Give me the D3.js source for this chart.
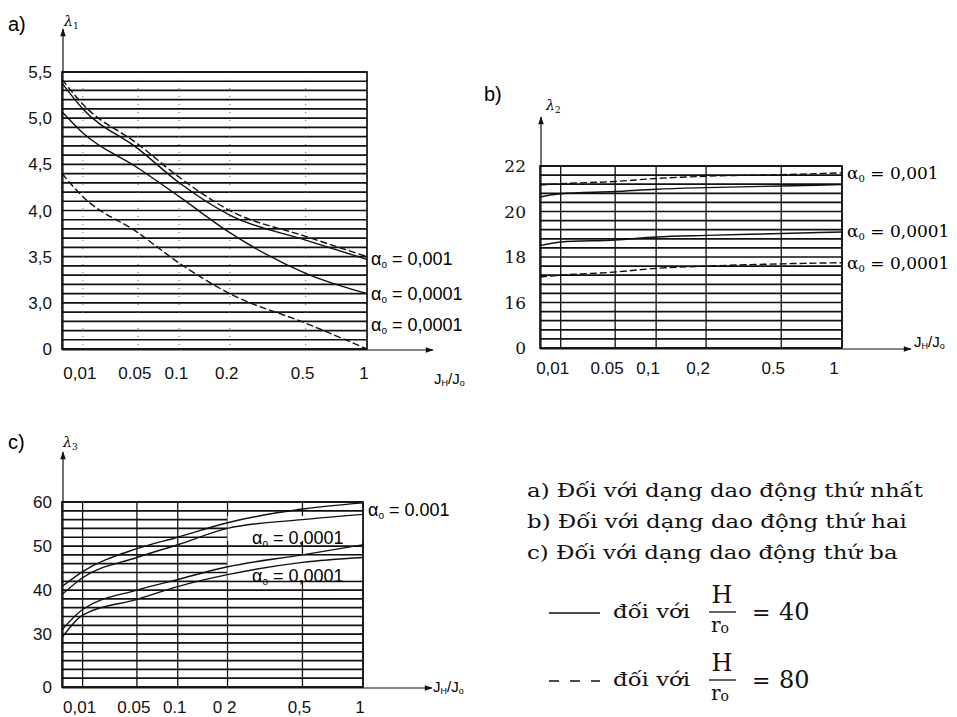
<!DOCTYPE html>
<html>
<head>
<meta charset="utf-8">
<script src="https://cdn.jsdelivr.net/npm/d3@7"></script>
<style>
  body { margin: 0; background: #fff; }
  svg { display: block; }
  .tick-label { font-family: "Liberation Sans", Arial, sans-serif; font-size: 17px; fill: #111; }
  .serif { font-family: "DejaVu Serif", "Liberation Serif", serif; }
</style>
</head>
<body>
<svg id="chart" width="957" height="717"></svg>
<script>
var xValues = [0, 0.01, 0.05, 0.1, 0.2, 0.5, 1];
var xTicks = [0.01, 0.05, 0.1, 0.2, 0.5, 1];
var xLabelsA = ["0,01", "0.05", "0.1", "0.2", "0.5", "1"];
var xLabelsB = ["0,01", "0.05", "0,1", "0,2", "0.5", "1"];
var xLabelsC = ["0,01", "0.05", "0.1", "0 2", "0,5", "1"];

// a) lambda 1
var yTicksA = [5.5, 5.0, 4.5, 4.0, 3.5, 3.0, 2.5];
var yLabelsA = ["5,5", "5,0", "4,5", "4,0", "3,5", "3,0", "0"];
var lam1_001_40 = [5.38, 5.10, 4.67, 4.30, 3.95, 3.68, 3.47];
var lam1_001_80 = [5.42, 5.15, 4.72, 4.36, 4.00, 3.72, 3.50];
var lam1_0001_40 = [5.07, 4.84, 4.46, 4.15, 3.76, 3.32, 3.10];
var lam1_0001_80 = [4.40, 4.15, 3.76, 3.43, 3.10, 2.78, 2.50];

// b) lambda 2
var yTicksB = [22, 20, 18, 16, 14];
var yLabelsB = ["22", "20", "18", "16", "0"];
var lam2_001_80 = [21.16, 21.22, 21.32, 21.45, 21.55, 21.62, 21.70];
var lam2_001_40 = [20.64, 20.78, 20.88, 20.98, 21.05, 21.12, 21.18];
var lam2_0001_40 = [18.50, 18.66, 18.75, 18.88, 18.95, 19.03, 19.10];
var lam2_0001_80 = [17.12, 17.20, 17.34, 17.50, 17.60, 17.70, 17.75];

// c) lambda 3
var yTicksC = [60, 50, 40, 30, 18];
var yLabelsC = ["60", "50", "40", "30", "0"];
var lam3_001_a = [40.8, 44.2, 49.4, 52.0, 55.3, 58.4, 59.8];
var lam3_001_b = [39.0, 42.8, 47.4, 50.3, 54.0, 56.0, 57.2];
var lam3_0001_a = [31.0, 35.6, 40.0, 42.4, 45.3, 48.0, 50.3];
var lam3_0001_b = [29.2, 34.3, 37.9, 40.8, 43.5, 46.3, 47.4];

var svg = d3.select("#chart");

var defs = svg.append("defs");
defs.append("marker")
  .attr("id", "arrow")
  .attr("viewBox", "0 0 10 10")
  .attr("refX", 9).attr("refY", 5)
  .attr("markerWidth", 16).attr("markerHeight", 8)
  .attr("markerUnits", "userSpaceOnUse")
  .attr("orient", "auto")
  .append("path")
    .attr("d", "M0,1.5L10,5L0,8.5Z")
    .attr("fill", "#111");

function drawPanel(p){
  var x = d3.scaleSymlog().constant(0.04).domain([0, 1]).range([p.left, p.right]);
  var y = d3.scaleLinear().domain(p.yDomain).range([p.bottom, p.top]);
  var g = svg.append("g");

  //horizontal grid lines
  var steps = Math.round((p.yDomain[1] - p.yDomain[0]) / p.step);
  var gridVals = d3.range(steps + 1).map(function(i){ return p.yDomain[0] + i * p.step; });
  g.selectAll(".hgrid")
    .data(gridVals)
    .enter().append("line")
      .attr("x1", p.left).attr("x2", p.right)
      .attr("y1", function(d){ return y(d); })
      .attr("y2", function(d){ return y(d); })
      .style("stroke", "#111")
      .style("stroke-width", 1.7);

  //vertical grid lines
  g.selectAll(".vgrid")
    .data(xTicks)
    .enter().append("line")
      .attr("x1", function(d){ return x(d); })
      .attr("x2", function(d){ return x(d); })
      .attr("y1", p.top).attr("y2", p.bottom)
      .style("stroke", p.vDotted ? "#666" : "#111")
      .style("stroke-width", p.vDotted ? 1 : 1.3)
      .style("stroke-dasharray", p.vDotted ? "1,7" : null);

  //blank boxes behind labels inside the plot
  (p.blanks || []).forEach(function(b){
    g.append("rect")
      .attr("x", x(b[0])).attr("width", x(b[1]) - x(b[0]))
      .attr("y", y(b[3])).attr("height", y(b[2]) - y(b[3]))
      .style("fill", "#fff");
  });

  //frame
  g.append("rect")
    .attr("x", p.left).attr("y", p.top)
    .attr("width", p.right - p.left).attr("height", p.bottom - p.top)
    .style("fill", "none").style("stroke", "#111").style("stroke-width", 1.7);

  //axes with arrows
  g.append("line")
    .attr("x1", p.left + 1).attr("y1", p.bottom + 1)
    .attr("x2", p.left + 1).attr("y2", p.arrowTop)
    .attr("marker-end", "url(#arrow)")
    .style("stroke", "#111").style("stroke-width", 1.2);
  g.append("line")
    .attr("x1", p.left).attr("y1", p.bottom + 1)
    .attr("x2", p.arrowRight).attr("y2", p.bottom + 1)
    .attr("marker-end", "url(#arrow)")
    .style("stroke", "#111").style("stroke-width", 1.2);

  //curves
  var line = d3.line()
    .x(function(d){ return x(d[0]); })
    .y(function(d){ return y(d[1]); })
    .curve(d3.curveMonotoneX);

  p.curves.forEach(function(c){
    g.append("path")
      .datum(xValues.map(function(v, i){ return [v, c.values[i]]; }))
      .attr("d", line)
      .style("fill", "none")
      .style("stroke", "#111")
      .style("stroke-width", 1.4)
      .style("stroke-dasharray", c.dashed ? "7,3" : null);
  });

  //tick labels
  g.selectAll(".xlab")
    .data(xTicks)
    .enter().append("text")
      .attr("class", "tick-label")
      .attr("x", function(d){ return x(d) + p.xLabelDx; })
      .attr("y", p.bottom + p.xLabelDy)
      .attr("text-anchor", "middle")
      .text(function(d, i){ return p.xLabels[i]; });

  g.selectAll(".ylab")
    .data(p.yTicks)
    .enter().append("text")
      .attr("class", p.serifY ? "tick-label serif" : "tick-label")
      .attr("x", p.left - p.yLabelGap)
      .attr("y", function(d){ return y(d) + 6; })
      .attr("text-anchor", "end")
      .text(function(d, i){ return p.yLabels[i]; });

  //panel letter and lambda
  g.append("text")
    .attr("x", p.letterPos[0]).attr("y", p.letterPos[1])
    .style("font-family", "Liberation Sans, Arial, sans-serif")
    .style("font-size", "20px")
    .text(p.letter);

  var lam = g.append("text")
    .attr("x", p.lambdaPos[0]).attr("y", p.lambdaPos[1])
    .style("font-family", "DejaVu Serif, serif")
    .style("font-style", "italic")
    .style("font-size", "14px")
    .text("λ");
  lam.append("tspan").attr("dy", 3).style("font-size", "9px").style("font-style", "normal").text(p.lambdaSub);

  //x axis name
  var xn = g.append("text")
    .attr("x", p.xNamePos[0]).attr("y", p.xNamePos[1])
    .style("font-family", "Liberation Sans, Arial, sans-serif")
    .style("font-size", "15px")
    .text("J");
  xn.append("tspan").attr("dy", 2).style("font-size", "9px").text("H");
  xn.append("tspan").attr("dy", -2).text("/J");
  xn.append("tspan").attr("dy", 2).style("font-size", "9px").text("o");

  //alpha labels
  p.alphaLabels.forEach(function(a){
    var t = g.append("text")
      .attr("x", a.x).attr("y", y(a.v) + 6)
      .style("font-family", p.serifAlpha ? "DejaVu Serif, serif" : "Liberation Sans, Arial, sans-serif")
      .style("font-size", p.serifAlpha ? "17px" : "18px")
      .text("α");
    t.append("tspan").attr("dy", 3).style("font-size", "10px").text(p.serifAlpha ? "0" : "o");
    t.append("tspan").attr("dy", -3).text(" = " + a.text);
  });
}

drawPanel({
  left: 62, right: 367, top: 72, bottom: 349,
  yDomain: [2.5, 5.5], step: 0.1,
  yTicks: yTicksA, yLabels: yLabelsA, xLabels: xLabelsA,
  arrowTop: 29, arrowRight: 433, xLabelDy: 30, xLabelDx: -3, yLabelGap: 10, vDotted: true,
  letter: "a)", letterPos: [8, 31], lambdaPos: [64, 26], lambdaSub: "1",
  xNamePos: [434, 384],
  curves: [
    {values: lam1_001_40, dashed: false},
    {values: lam1_001_80, dashed: true},
    {values: lam1_0001_40, dashed: false},
    {values: lam1_0001_80, dashed: true}
  ],
  alphaLabels: [
    {x: 371, v: 3.48, text: "0,001"},
    {x: 371, v: 3.1, text: "0,0001"},
    {x: 371, v: 2.76, text: "0,0001"}
  ]
});

drawPanel({
  left: 540, right: 842, top: 166, bottom: 348,
  yDomain: [14, 22], step: 0.4,
  yTicks: yTicksB, yLabels: yLabelsB, xLabels: xLabelsB,
  arrowTop: 117, arrowRight: 911, xLabelDy: 26, xLabelDx: -8, yLabelGap: 14,
  vDotted: false, serifY: true, serifAlpha: true,
  letter: "b)", letterPos: [484, 101], lambdaPos: [546, 110], lambdaSub: "2",
  xNamePos: [914, 347],
  curves: [
    {values: lam2_001_80, dashed: true},
    {values: lam2_001_40, dashed: false},
    {values: lam2_0001_40, dashed: false},
    {values: lam2_0001_80, dashed: true}
  ],
  alphaLabels: [
    {x: 847, v: 21.7, text: "0,001"},
    {x: 847, v: 19.15, text: "0,0001"},
    {x: 847, v: 17.75, text: "0,0001"}
  ]
});

drawPanel({
  left: 62, right: 363, top: 502, bottom: 687,
  yDomain: [18, 60], step: 2,
  yTicks: yTicksC, yLabels: yLabelsC, xLabels: xLabelsC,
  arrowTop: 452, arrowRight: 432, xLabelDy: 26, xLabelDx: -3, yLabelGap: 10, vDotted: false,
  letter: "c)", letterPos: [8, 449], lambdaPos: [63, 447], lambdaSub: "3",
  xNamePos: [433, 692],
  blanks: [[0.2, 1, 51.2, 56.8], [0.2, 1, 42.2, 47.8]],
  curves: [
    {values: lam3_001_a, dashed: false},
    {values: lam3_001_b, dashed: false},
    {values: lam3_0001_a, dashed: false},
    {values: lam3_0001_b, dashed: false}
  ],
  alphaLabels: [
    {x: 368, v: 58.2, text: "0.001"},
    {x: 252, v: 51.8, text: "0,0001"},
    {x: 252, v: 43.2, text: "0,0001"}
  ]
});

//legend text, stretched sideways like the wide book face of the original
var legendLines = [
  "a) Đối với dạng dao động thứ nhất",
  "b) Đối với dạng dao động thứ hai",
  "c) Đối với dạng dao động thứ ba"
];
var legendRatios = ["40", "80"];
var stretch = 1.27;

function widen(sel){
  sel.each(function(){
    var w = this.getComputedTextLength();
    d3.select(this).attr("textLength", w * stretch).attr("lengthAdjust", "spacingAndGlyphs");
  });
}

var lg = svg.append("g").attr("class", "serif").style("font-size", "18px").style("fill", "#111");
lg.selectAll(".lline")
  .data(legendLines)
  .enter().append("text")
    .attr("x", 527)
    .attr("y", function(d, i){ return 497 + i * 31; })
    .text(function(d){ return d; })
    .call(widen);

legendRatios.forEach(function(r, i){
  var cy = 613 + i * 68;
  lg.append("line")
    .attr("x1", 549).attr("x2", 600).attr("y1", cy).attr("y2", cy)
    .style("stroke", "#111").style("stroke-width", 1.3)
    .style("stroke-dasharray", i === 1 ? "10,11" : null);
  lg.append("text").attr("x", 613).attr("y", cy + 5).text("đối với").call(widen);
  lg.append("text").attr("x", 722).attr("y", cy - 10).attr("text-anchor", "middle")
    .style("font-size", "24px").text("H");
  lg.append("line")
    .attr("x1", 709).attr("x2", 736).attr("y1", cy - 1).attr("y2", cy - 1)
    .style("stroke", "#111").style("stroke-width", 1.3);
  var ro = lg.append("text").attr("x", 720).attr("y", cy + 19).attr("text-anchor", "middle")
    .style("font-size", "20px").text("r");
  ro.append("tspan").attr("dy", 1).style("font-size", "14px").text("o");
  lg.append("text").attr("x", 752).attr("y", cy + 7).style("font-size", "22px").text("=");
  lg.append("text").attr("x", 779).attr("y", cy + 7).style("font-size", "24px").text(r);
});
</script>
</body>
</html>
